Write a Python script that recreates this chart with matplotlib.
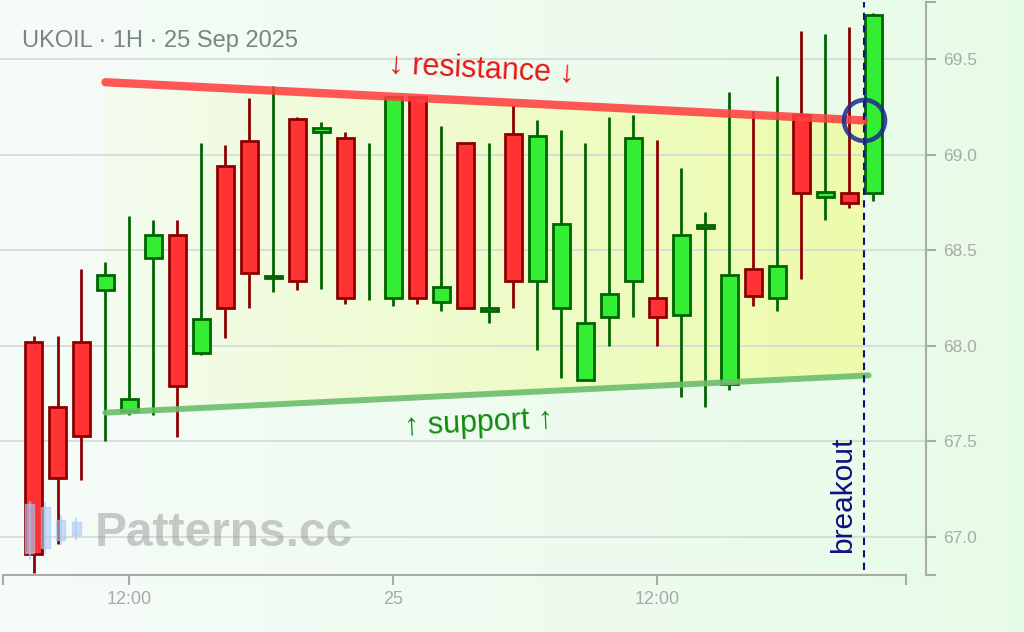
import matplotlib
matplotlib.use('Agg')
import numpy as np
import matplotlib.pyplot as plt
from matplotlib.patches import Polygon, Rectangle

plt.rcParams['font.family'] = ['Liberation Sans', 'DejaVu Sans']

# hourly candles (index = bar number)
opens  = [68.02, 67.68, 68.02, 68.29, 67.66, 68.46, 68.58, 67.96, 68.94, 69.07,
          68.355, 69.19, 69.12, 69.09, 68.60, 68.25, 69.30, 68.23, 69.06, 68.18,
          69.11, 68.34, 68.20, 67.82, 68.15, 68.34, 68.25, 68.16, 68.615, 67.80,
          68.40, 68.25, 69.21, 68.78, 68.80, 68.80]
highs  = [68.05, 68.05, 68.40, 68.44, 68.68, 68.66, 68.66, 69.06, 69.05, 69.30,
          69.36, 69.20, 69.17, 69.12, 69.06, 69.31, 69.30, 69.15, 69.06, 69.06,
          69.26, 69.18, 69.13, 69.06, 69.20, 69.21, 69.08, 68.93, 68.70, 69.33,
          69.23, 69.41, 69.65, 69.63, 69.67, 69.74]
lows   = [66.81, 66.96, 67.30, 67.50, 67.64, 67.64, 67.52, 67.95, 68.04, 68.20,
          68.28, 68.29, 68.30, 68.22, 68.24, 68.21, 68.22, 68.18, 68.20, 68.12,
          68.20, 67.98, 67.83, 67.82, 68.00, 68.15, 68.00, 67.73, 67.68, 67.77,
          68.21, 68.18, 68.35, 68.66, 68.72, 68.76]
closes = [66.91, 67.31, 67.53, 68.37, 67.72, 68.58, 67.79, 68.14, 68.20, 68.38,
          68.365, 68.34, 69.14, 68.25, 68.60, 69.30, 68.25, 68.31, 68.20, 68.20,
          68.34, 69.10, 68.64, 68.12, 68.27, 69.09, 68.15, 68.58, 68.63, 68.37,
          68.26, 68.42, 68.80, 68.805, 68.75, 69.73]

tick_pos = [4, 15, 26]
tick_labels = ['12:00', '25', '12:00']

# pattern lines: (x0, y0) -> (x1, y1)
resistance = [(3, 69.38), (34.6, 69.18)]
support = [(3, 67.65), (34.8, 67.845)]
breakout_x = 34.6

x_lo, x_hi = -1.396, 37.19
y_lo, y_hi = 66.8, 69.8

GREEN, GREEN_EDGE = '#33ee33', '#006400'
RED, RED_EDGE = '#ff3333', '#8b0000'
NAVY = '#101080'
AXIS_GRAY = '#aaaaaa'

fig = plt.figure(figsize=(10.24, 6.32), dpi=100)
fig.patch.set_edgecolor('#cfd6d2')
fig.patch.set_linewidth(1.5)

# soft background gradient
bg = fig.add_axes([0, 0, 1, 1], zorder=-5)
bg.axis('off')
c0 = np.array([0.965, 0.985, 0.975])
c1 = np.array([0.905, 0.985, 0.905])
t = np.linspace(0, 1, 256)
grad = c0[None, None, :] * (1 - t)[None, :, None] + c1[None, None, :] * t[None, :, None]
grad = np.repeat(grad, 2, axis=0)
bg.imshow(grad, aspect='auto', extent=[0, 1, 0, 1])
bg.set_xlim(0, 1)
bg.set_ylim(0, 1)

ax = fig.add_axes([0, 1 - 575 / 632, 926 / 1024, 573 / 632])
ax.set_facecolor('none')
ax.set_xlim(x_lo, x_hi)
ax.set_ylim(y_lo, y_hi)

# triangle fill with left-to-right yellow gradient
(rx0, ry0), (rx1, ry1) = resistance
(sx0, sy0), (sx1, sy1) = support
sy_at_b = sy0 + (sy1 - sy0) * (breakout_x - sx0) / (sx1 - sx0)
tri = Polygon([(rx0, ry0), (rx1, ry1), (breakout_x, sy_at_b), (sx0, sy0)],
              closed=True, facecolor='none', edgecolor='none')
ax.add_patch(tri)
yel = np.zeros((2, 256, 4))
yel[..., 0] = 0.94
yel[..., 1] = 0.985
yel[..., 2] = 0.63
yel[..., 3] = np.linspace(0.08, 0.85, 256)[None, :]
im = ax.imshow(yel, aspect='auto', extent=[rx0, breakout_x, sy0 - 0.1, ry0 + 0.1],
               zorder=0.5, interpolation='bilinear')
im.set_clip_path(tri)
ax.set_xlim(x_lo, x_hi)
ax.set_ylim(y_lo, y_hi)

# candles
xs = np.arange(len(opens))
o = np.array(opens)
c = np.array(closes)
up = c >= o
wick_cols = [GREEN_EDGE if u else RED_EDGE for u in up]
ax.vlines(xs, lows, highs, colors=wick_cols, linewidth=2.0, zorder=2)
has_body = np.abs(c - o) > 1e-9
for x, oo, cc, u in zip(xs[has_body], o[has_body], c[has_body], up[has_body]):
    ax.bar(x, abs(cc - oo), bottom=min(oo, cc), width=0.7,
           color=GREEN if u else RED, edgecolor=GREEN_EDGE if u else RED_EDGE,
           linewidth=2.0, zorder=3)

# resistance / support
ax.plot([rx0, rx1], [ry0, ry1], color='#ff4040', lw=6, alpha=0.88,
        solid_capstyle='round', zorder=4)
ax.plot([sx0, sx1], [sy0, sy1], color='#6cbd6c', lw=4.3, alpha=0.9,
        solid_capstyle='round', zorder=4)

# breakout marker
bl, = ax.plot([breakout_x, breakout_x], [y_lo + 0.027, y_hi], color=NAVY, lw=1.5, zorder=5)
bl.set_dashes((3.5, 2.5))
ax.plot(breakout_x, ry1, 'o', ms=29.5, mfc='none', mec='#1c2a8c', mew=3.3,
        alpha=0.85, zorder=6)

def line_angle(p0, p1):
    a = ax.transData.transform(p0)
    b = ax.transData.transform(p1)
    return np.degrees(np.arctan2(b[1] - a[1], b[0] - a[0]))

ax.text(18.65, 69.443, '↓ resistance ↓', color='#e81616', fontsize=22,
        ha='center', va='center', rotation=line_angle(*resistance), zorder=6)
ax.text(18.56, 67.592, '↑ support ↑', color='#128a12', fontsize=22,
        ha='center', va='center', rotation=line_angle(*support), zorder=6)
ax.text(breakout_x - 0.88, 66.915, 'breakout', color=NAVY, fontsize=21.5,
        rotation=90, ha='center', va='bottom', zorder=6)

# axes styling
for side in ('left', 'top'):
    ax.spines[side].set_visible(False)
for side in ('bottom', 'right'):
    ax.spines[side].set_color(AXIS_GRAY)
    ax.spines[side].set_linewidth(1.5)
ax.spines['bottom'].set_bounds(-1.27, 36.35)

ax.yaxis.tick_right()
ax.set_yticks([67.0, 67.5, 68.0, 68.5, 69.0, 69.5])
ax.set_yticklabels(['67.0', '67.5', '68.0', '68.5', '69.0', '69.5'])
ax.set_yticks([y_lo, y_hi], minor=True)
ax.set_xticks(tick_pos)
ax.set_xticklabels(tick_labels)
ax.set_xticks([-1.27, 36.35], minor=True)
ax.tick_params(which='both', color=AXIS_GRAY, width=1.5, length=7.2, direction='out')
ax.tick_params(axis='y', which='major', labelsize=12.5, labelcolor=AXIS_GRAY, pad=5)
ax.tick_params(axis='x', which='major', labelsize=13, labelcolor=AXIS_GRAY, pad=4)
ax.yaxis.grid(True, color='#d6dbd7', lw=1.3, zorder=0)
ax.set_axisbelow(True)

fig.text(22 / 1024, 1 - 41 / 632, 'UKOIL · 1H · 25 Sep 2025', color='#7a8480',
         fontsize=17, ha='left', va='center')

# watermark
wm = fig.add_axes([22 / 1024, 1 - 560 / 632, 62 / 1024, 62 / 632], zorder=10)
wm.axis('off')
wm.set_xlim(0, 4)
wm.set_ylim(0, 1)
for i, (lo_, hi_, blo, bhi) in enumerate([(0.0, 0.95, 0.12, 0.9), (0.1, 0.93, 0.2, 0.85),
                                          (0.25, 0.72, 0.33, 0.65), (0.33, 0.68, 0.4, 0.62)]):
    wm.vlines(i * 1.0 + 0.5, lo_, hi_, color='#a9c9f5', lw=1.5, alpha=0.6)
    wm.add_patch(Rectangle((i + 0.22, blo), 0.56, bhi - blo, color='#a9c9f5', alpha=0.6))
fig.text(95 / 1024, 1 - 534 / 632, 'Patterns.cc', fontsize=34.5, fontweight='bold',
         color='#8c8c8c', alpha=0.45, ha='left', va='center', zorder=10)

fig.savefig('out.png', dpi=100)
